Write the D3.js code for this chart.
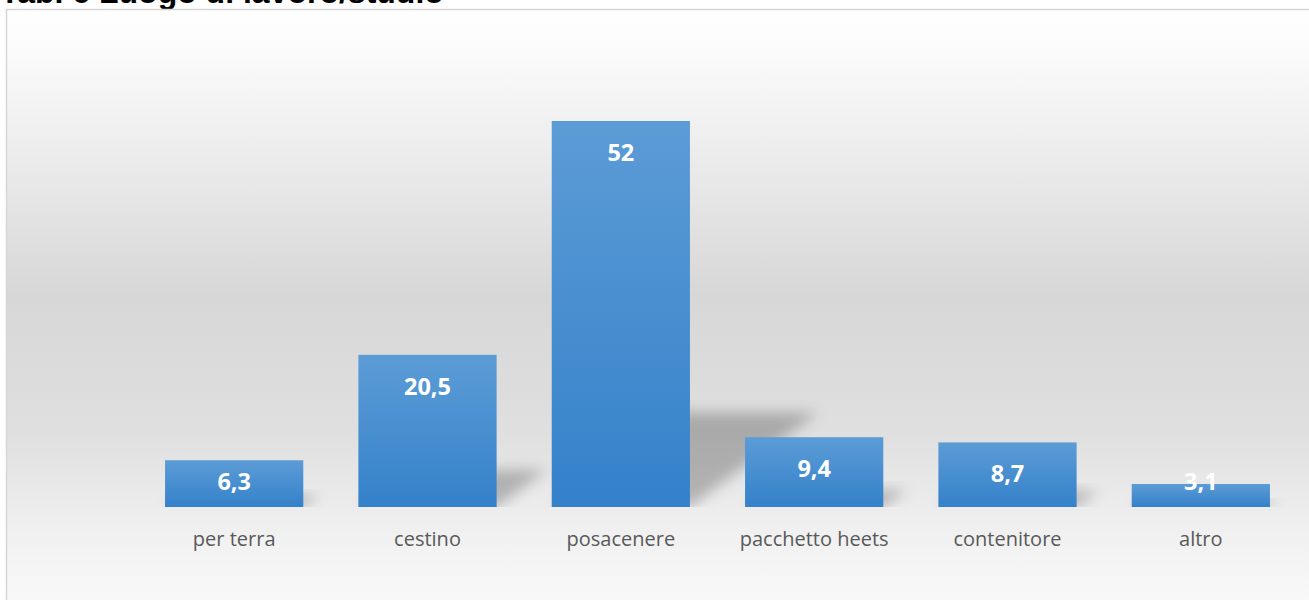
<!DOCTYPE html>
<html>
<head>
<meta charset="utf-8">
<script src="https://cdn.jsdelivr.net/npm/d3@7"></script>
<style>
  html, body { margin: 0; padding: 0; background: #ffffff; overflow: hidden; }
  svg { display: block; }
</style>
</head>
<body>
<svg id="chart" width="1309" height="600"></svg>
<script>
// Tab. 6 – Luogo di lavoro/studio: where the used heets end up (%)
const categories = ["per terra", "cestino", "posacenere", "pacchetto heets", "contenitore", "altro"];
const values = [6.3, 20.5, 52, 9.4, 8.7, 3.1];
const titleText = "Tab. 6 Luogo di lavoro/studio";

const W = 1309, H = 600;
const svg = d3.select("#chart");
const defs = svg.append("defs");

// Italian number format (decimal comma)
const itFmt = d3.formatLocale({ decimal: ",", thousands: ".", grouping: [3], currency: ["", " €"] }).format("");

// Chart area background: soft vertical grey gradient
const bg = defs.append("linearGradient").attr("id", "bgGrad")
  .attr("x1", 0).attr("y1", 0).attr("x2", 0).attr("y2", 1);
[[0, "#ffffff"], [0.08, "#fafafa"], [0.30, "#e6e6e6"], [0.46, "#d7d7d7"],
 [0.68, "#dfdfdf"], [0.85, "#f1f1f1"], [1, "#fcfcfc"]]
  .forEach(([o, c]) => bg.append("stop").attr("offset", o).attr("stop-color", c));

// Bar fill: lighter blue at the top, deeper blue at the bottom
const barGrad = defs.append("linearGradient").attr("id", "barGrad")
  .attr("x1", 0).attr("y1", 0).attr("x2", 0).attr("y2", 1);
barGrad.append("stop").attr("offset", 0).attr("stop-color", "#5c9cd6");
barGrad.append("stop").attr("offset", 1).attr("stop-color", "#3481ca");

// Blur for the perspective shadows
defs.append("filter").attr("id", "shadowBlur")
  .attr("x", "-50%").attr("y", "-50%").attr("width", "200%").attr("height", "200%")
  .append("feGaussianBlur").attr("stdDeviation", 7);

// Title (partly above the visible area)
svg.append("text")
  .attr("x", 0).attr("y", 3)
  .attr("font-family", "'Liberation Sans', Arial, sans-serif")
  .attr("font-weight", "bold").attr("font-size", 32)
  .attr("fill", "#000000")
  .text(titleText);

// Chart frame
svg.append("rect")
  .attr("x", 6.5).attr("y", 9.5).attr("width", W + 20).attr("height", H + 20)
  .attr("fill", "url(#bgGrad)")
  .attr("stroke", "#d6d6d6").attr("stroke-width", 1.5);

// Scales
const baseY = 507;
const x = d3.scaleBand().domain(categories)
  .range([137.5, 1297.5]).paddingInner(0.285).paddingOuter(0.1425);
const y = d3.scaleLinear().domain([0, 60]).range([baseY, baseY - 60 * (386 / 52)]);

// Shadows cut at the category baseline
defs.append("clipPath").attr("id", "plotClip")
  .append("rect").attr("x", 0).attr("y", 0).attr("width", W).attr("height", baseY);

const shadowG = svg.append("g").attr("clip-path", "url(#plotClip)");
shadowG.selectAll("polygon").data(values).join("polygon")
  .attr("points", (d, i) => {
    const x0 = x(categories[i]), x1 = x0 + x.bandwidth();
    const sh = 0.245 * (baseY - y(d));
    const dx = 1.35 * sh;
    return [[x0 + 2, baseY], [x1, baseY], [x1 + dx, baseY - sh], [x0 + dx, baseY - sh]]
      .map(p => p.join(",")).join(" ");
  })
  .attr("fill", "#000000").attr("fill-opacity", 0.24)
  .attr("filter", "url(#shadowBlur)");

// Bars
svg.append("g").selectAll("rect").data(values).join("rect")
  .attr("x", (d, i) => x(categories[i]))
  .attr("y", d => y(d))
  .attr("width", x.bandwidth())
  .attr("height", d => baseY - y(d))
  .attr("fill", "url(#barGrad)");

// Value labels, inside the top of each bar
svg.append("g").selectAll("text").data(values).join("text")
  .attr("x", (d, i) => x(categories[i]) + x.bandwidth() / 2)
  .attr("y", d => Math.min(y(d) + 40, baseY - 17.5))
  .attr("text-anchor", "middle")
  .attr("font-family", "'Open Sans', 'Noto Sans', sans-serif")
  .attr("font-weight", "bold").attr("font-size", 23.5)
  .attr("fill", "#ffffff")
  .text(d => itFmt(d));

// Category axis (labels only)
const xAxis = svg.append("g")
  .attr("transform", `translate(0,${baseY})`)
  .call(d3.axisBottom(x).tickSize(0).tickSizeOuter(0));
xAxis.select(".domain").remove();
xAxis.selectAll(".tick text")
  .attr("y", 39).attr("dy", 0)
  .attr("font-family", "'Open Sans', 'Noto Sans', sans-serif")
  .attr("font-size", 20)
  .attr("fill", "#595959");
</script>
</body>
</html>
